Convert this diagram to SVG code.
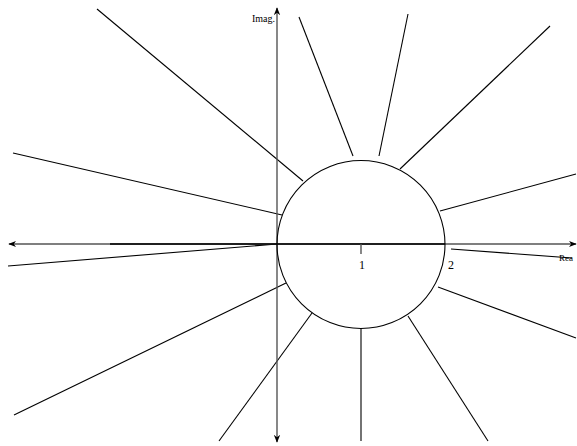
<svg xmlns="http://www.w3.org/2000/svg" width="577" height="446" viewBox="0 0 577 446">
<style>
.ray{stroke:#000;stroke-width:1.1;fill:none}
.axis{stroke:#555;stroke-width:1.4;fill:none}
.lbl{font-family:"Liberation Serif",serif;fill:#000}
</style>
<defs>
<marker id="ah" viewBox="0 0 10 10" refX="9" refY="5" markerWidth="8" markerHeight="8" markerUnits="userSpaceOnUse" orient="auto">
<path d="M0,1 L10,5 L0,9 L3,5 Z" fill="#000"/>
</marker>
</defs>
<rect width="577" height="446" fill="#fff"/>
<g id="connectors">
<line class="ray" x1="97" y1="9" x2="303" y2="181"/>
<line class="ray" x1="299" y1="17" x2="353" y2="156"/>
<line class="ray" x1="408" y1="14" x2="379" y2="156"/>
<line class="ray" x1="550" y1="26" x2="400" y2="169"/>
<line class="ray" x1="13" y1="153" x2="282" y2="215"/>
<line class="ray" x1="576" y1="174" x2="440" y2="211"/>
<line class="ray" x1="8" y1="266" x2="277" y2="244"/>
<line class="ray" x1="451" y1="249" x2="572" y2="258"/>
<line class="ray" x1="576" y1="338" x2="438" y2="287"/>
<line class="ray" x1="14" y1="415" x2="286" y2="283"/>
<line class="ray" x1="219" y1="441" x2="312" y2="313"/>
<line class="ray" x1="361" y1="441" x2="361" y2="329"/>
<line class="ray" x1="488" y1="441" x2="408" y2="316"/>
</g>
<g id="axes">
<line class="axis" x1="277" y1="244" x2="9" y2="244" marker-end="url(#ah)"/>
<line class="axis" x1="277" y1="244" x2="576" y2="244" marker-end="url(#ah)"/>
<line class="axis" x1="277" y1="244" x2="277" y2="8" marker-end="url(#ah)"/>
<line class="axis" x1="277" y1="244" x2="277" y2="442" marker-end="url(#ah)"/>
<line x1="110" y1="244" x2="445" y2="244" stroke="#000" stroke-width="1.3"/>
<line x1="361" y1="244" x2="361" y2="254" stroke="#555" stroke-width="1.4"/>
</g>
<g id="circle">
<circle cx="361" cy="244.5" r="84" fill="none" stroke="#000" stroke-width="1.1"/>
</g>
<g id="labels">
<text class="lbl" x="275" y="22" font-size="10" text-anchor="end">Imag.</text>
<text class="lbl" x="559" y="261" font-size="9">Rea</text>
<text class="lbl" x="359" y="269" font-size="12">1</text>
<text class="lbl" x="448" y="269" font-size="12">2</text>
</g>
</svg>
